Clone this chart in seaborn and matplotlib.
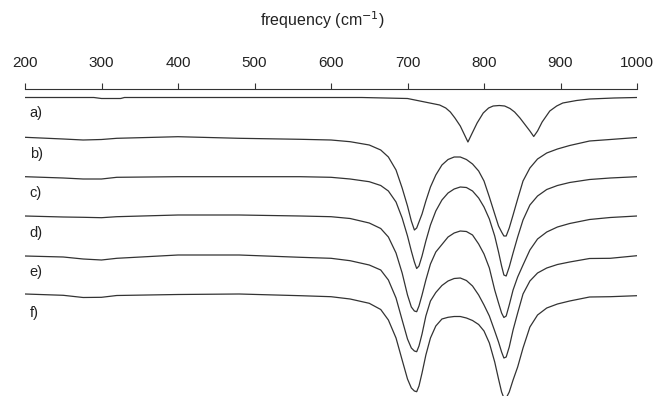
import numpy as np
import pandas as pd
import seaborn as sns
import matplotlib.pyplot as plt

# setup
sns.set_theme(style='white')
plt.rcParams['font.family'] = ['Liberation Sans', 'DejaVu Sans']

# data (stacked signal, arbitrary units, larger = lower on the plot)
freq_a = [200, 290, 300, 325, 330, 640, 700, 742, 750, 756, 762, 769, 774, 779, 784,
          791, 799, 806, 812, 820, 827, 834, 840, 847, 854, 860, 865, 870, 876,
          886, 895, 903, 921, 938, 970, 1000]
trace_a = [97.5, 97.5, 98.5, 98.5, 97.5, 97.5, 98.5, 105, 108, 112, 118, 126, 134, 142, 134,
           123, 113, 108, 106, 105.5, 106, 108.5, 112, 118, 125, 131, 136.5, 131, 122,
           111, 106, 103, 100.5, 99, 98, 97.5]

freq = [200, 250, 276, 300, 320, 400, 480, 560, 600, 625, 650, 665, 675, 685, 693,
        700, 705, 709, 712, 715, 719, 724, 730, 737, 745, 753, 761, 769, 777, 785,
        793, 800, 807, 814, 819, 823, 826, 829, 833, 838, 844, 851, 860, 870, 882,
        896, 912, 938, 965, 1000]
trace_b = [137.3, 139, 140, 139.5, 138.3, 136.7, 138.3, 139.3, 140, 141.7, 145, 150, 157, 170, 188,
           206, 221, 230, 228, 222, 214, 201, 187, 175, 165, 159.5, 157, 157, 159.5, 164,
           171, 181, 197, 214, 226, 232, 236, 236, 228, 215, 199, 181, 168, 159, 153,
           149, 145.5, 141, 139.5, 137.5]
trace_c = [176.7, 178, 179, 179, 177.3, 176.7, 176.7, 176.7, 177.3, 179, 181.7, 185.5, 191, 202, 218,
           236, 251, 262, 268.5, 266, 256, 241, 225, 211, 200, 193, 189, 187, 187.5, 191,
           198, 207, 219, 236, 252, 266, 275, 276, 267, 253, 237, 220, 205, 196, 189.5,
           185.5, 182.5, 179.5, 178, 176.7]
trace_d = [216, 217, 217.3, 217.7, 216.7, 215, 215, 216, 216.7, 218.5, 223, 228.5, 237, 253, 273,
           295, 307, 311, 311.7, 306, 295, 280, 264, 252, 244.5, 237, 233, 231, 231.5, 235,
           244, 254, 268, 290, 303, 313, 317.5, 316, 305, 290, 277, 265, 250, 239, 232,
           227, 223.5, 219.5, 217.5, 216]
trace_e = [256, 257, 259, 260, 258.3, 255, 255, 257.3, 258.3, 260.7, 265, 270, 280, 298, 320,
           339, 348, 351, 351.7, 346, 334, 316, 301, 292.5, 285.5, 281, 278.5, 278, 280.5, 286,
           295, 305, 316, 331, 342, 352, 358, 357, 347, 330, 313, 294, 281, 273, 268,
           264.5, 262, 258.5, 258.3, 255.7]
trace_f = [294, 295.3, 297.5, 297.3, 295.5, 294.5, 294, 295.7, 296.7, 299, 303.3, 309.5, 320, 338, 360,
           379, 388, 391, 391.7, 386, 373, 355, 338, 326, 319, 317.3, 316.5, 316.5, 318, 320.5,
           324.5, 331, 343, 362, 379, 392, 398, 398, 392, 380, 367, 348, 327, 315, 308,
           304, 301, 297, 296.7, 295.7]

labels = ['a)', 'b)', 'c)', 'd)', 'e)', 'f)']
label_y = [113, 154, 193, 233, 272, 313]
ticks = [200, 300, 400, 500, 600, 700, 800, 900, 1000]

frames = [pd.DataFrame({'freq': freq_a, 'value': trace_a, 'trace': 'a'})]
for name, vals in zip('bcdef', [trace_b, trace_c, trace_d, trace_e, trace_f]):
    frames.append(pd.DataFrame({'freq': freq, 'value': vals, 'trace': name}))
data = pd.concat(frames, ignore_index=True)

# plot
fig = plt.figure(figsize=(6.57, 3.96), dpi=100)
ax = fig.add_axes([25 / 657, 0, 612 / 657, (396 - 89) / 396])
sns.lineplot(data=data, x='freq', y='value', units='trace', estimator=None,
             sort=False, color='#333333', lw=0.9, ax=ax)

ax.set_xlim(200, 1000)
ax.set_ylim(396, 89)
ax.set_yticks([])
ax.set_ylabel('')
ax.xaxis.tick_top()
ax.xaxis.set_label_position('top')
ax.set_xticks(ticks)
ax.set_xticklabels([str(t) for t in ticks], fontsize=11, color='#222222')
ax.tick_params(axis='x', direction='out', length=4, width=0.8, color='#333333', pad=9.5)
ax.set_xlabel('frequency (cm$^{-1}$)', fontsize=11.5, color='#222222', labelpad=22)
ax.xaxis.label.set_x((322 - 25) / 612)
for side in ['left', 'right', 'bottom']:
    ax.spines[side].set_visible(False)
ax.spines['top'].set_linewidth(0.8)
ax.spines['top'].set_color('#333333')

for lab, y in zip(labels, label_y):
    ax.text(206, y, lab, fontsize=10.5, va='center', ha='left', color='#222222')

fig.savefig('out.png', dpi=100)
